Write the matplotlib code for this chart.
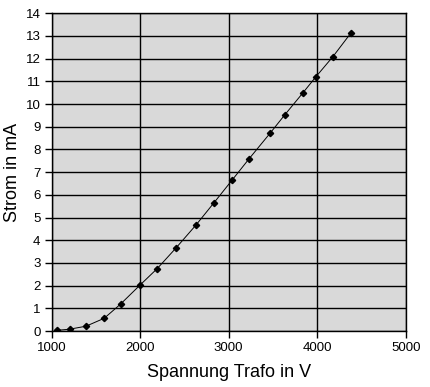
import matplotlib
matplotlib.use("Agg")
from matplotlib import pyplot as plt

spannung = [1063, 1203, 1388, 1594, 1780, 1998, 2193, 2401, 2631, 2834,
            3037, 3229, 3467, 3633, 3836, 3983, 4178, 4379]
strom = [0.03, 0.08, 0.21, 0.56, 1.19, 2.02, 2.75, 3.64, 4.67, 5.65,
         6.64, 7.58, 8.71, 9.52, 10.48, 11.19, 12.09, 13.12]
x_ticks = [1000, 2000, 3000, 4000, 5000]
y_ticks = list(range(0, 15))

plt.rcParams['font.family'] = ['Liberation Sans', 'DejaVu Sans']

fig = plt.figure(figsize=(4.30, 3.87), dpi=100)
ax = fig.add_axes([0.120, 0.1447, 0.8235, 0.821])
ax.set_facecolor('#d9d9d9')

ax.plot(spannung, strom, color='black', linewidth=0.7, marker='D',
        markersize=3.2, markerfacecolor='black', markeredgecolor='black')

ax.set_xlim(1000, 5000)
ax.set_ylim(0, 14)
ax.set_xticks(x_ticks)
ax.set_yticks(y_ticks)
ax.grid(True, color='black', linewidth=1.0)
ax.set_axisbelow(True)
for s in ax.spines.values():
    s.set_color('black')
    s.set_linewidth(1.0)
ax.tick_params(direction='out', length=5, width=1, labelsize=9.5, pad=3)

ax.set_xlabel('Spannung Trafo in V', fontsize=13, labelpad=7)
ax.set_ylabel('Strom in mA', fontsize=13)
ax.yaxis.set_label_coords(-0.086, 0.5)

fig.savefig('out.png', dpi=100)
plt.close('all')
